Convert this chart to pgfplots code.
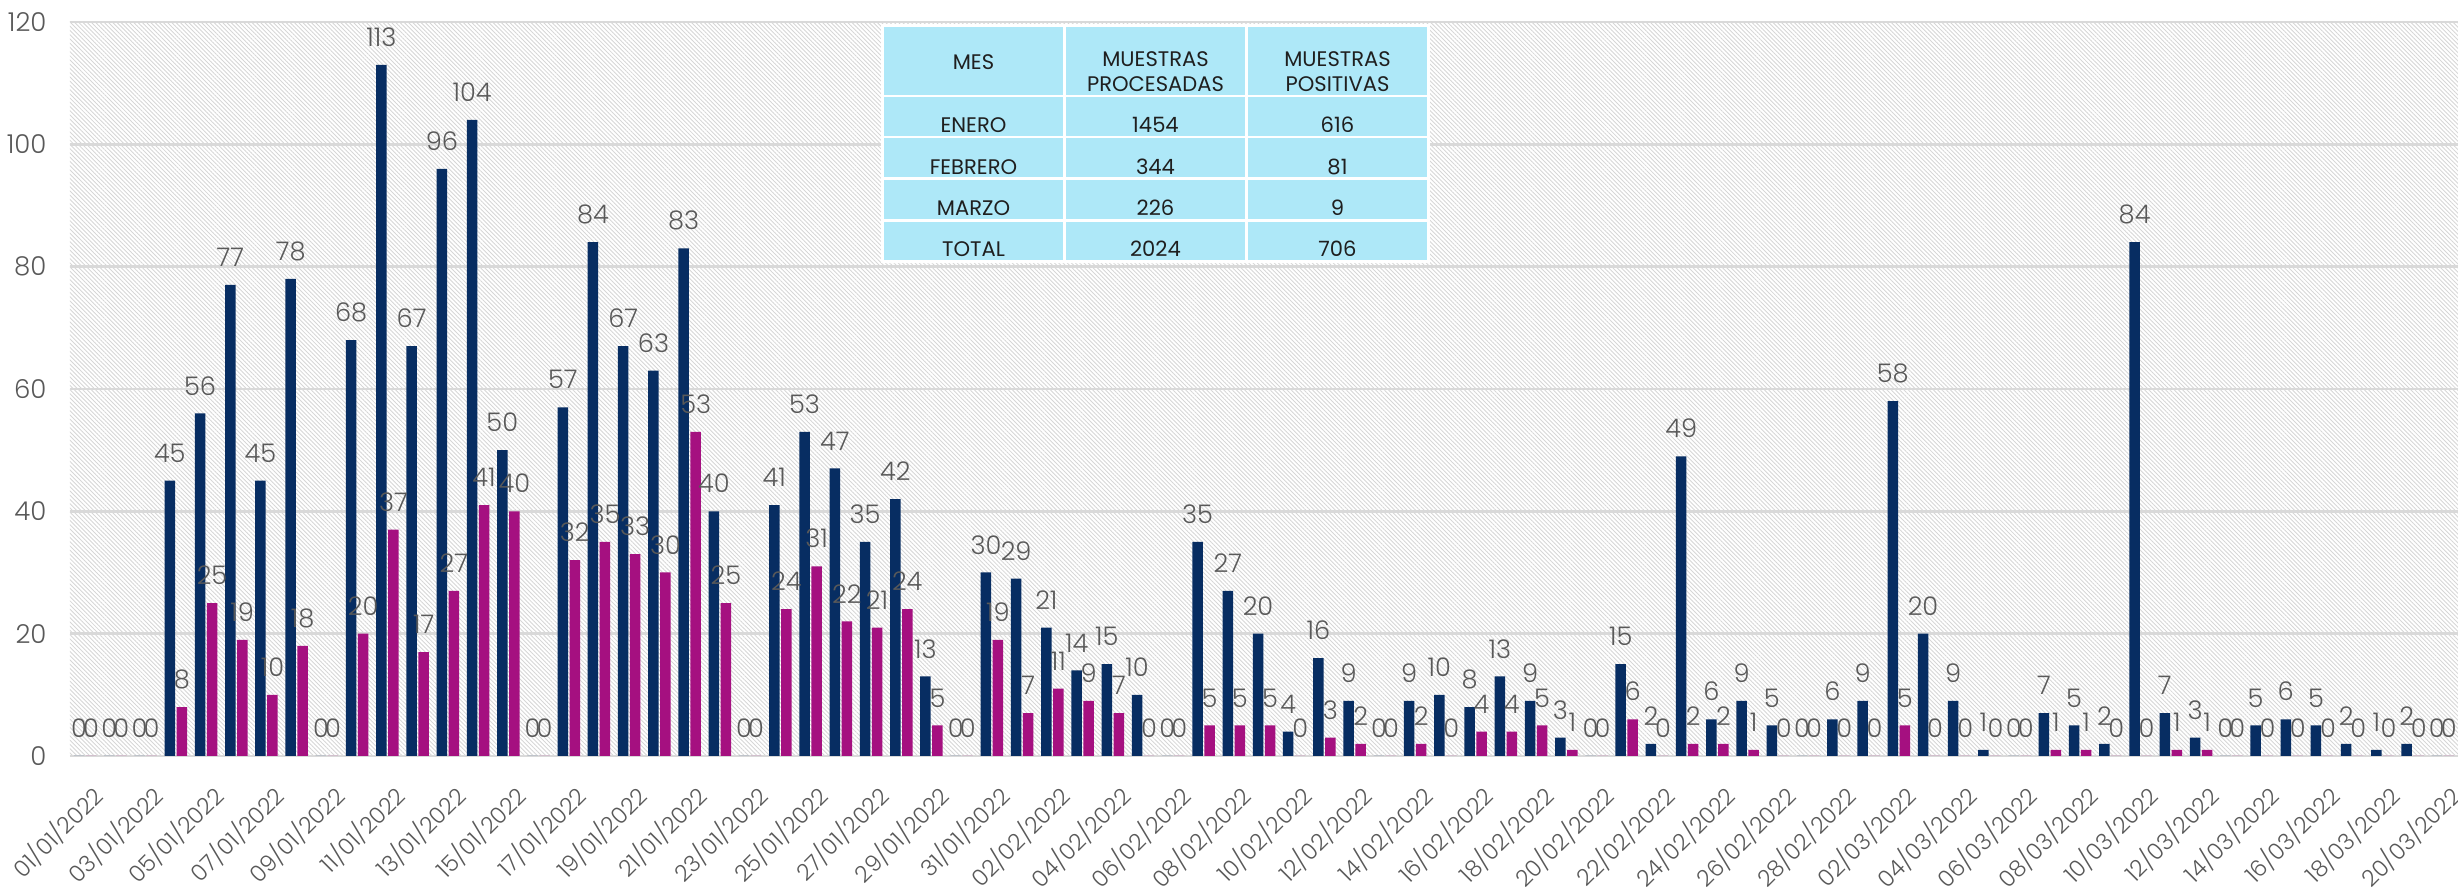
\documentclass[border=0pt]{standalone}
\usepackage{pgfplots}
\pgfplotsset{compat=1.18}
\usepackage{pgfplotstable}
\usepackage{fontspec}
\setmainfont{Poppins}[UprightFont={* Light}]
\newfontfamily\tabfont{Poppins}
\usetikzlibrary{patterns.meta}
\definecolor{navy}{RGB}{7,45,98}
\definecolor{mag}{RGB}{165,16,128}
\definecolor{cellc}{RGB}{174,232,248}
\definecolor{gridc}{RGB}{217,217,217}
\definecolor{hatchc}{RGB}{214,214,214}
\definecolor{lblgrey}{RGB}{89,89,89}

\pgfplotstableread{
d p q
1 0 0
2 0 0
3 0 0
4 45 8
5 56 25
6 77 19
7 45 10
8 78 18
9 0 0
10 68 20
11 113 37
12 67 17
13 96 27
14 104 41
15 50 40
16 0 0
17 57 32
18 84 35
19 67 33
20 63 30
21 83 53
22 40 25
23 0 0
24 41 24
25 53 31
26 47 22
27 35 21
28 42 24
29 13 5
30 0 0
31 30 19
32 29 7
33 21 11
34 14 9
35 15 7
36 10 0
37 0 0
38 35 5
39 27 5
40 20 5
41 4 0
42 16 3
43 9 2
44 0 0
45 9 2
46 10 0
47 8 4
48 13 4
49 9 5
50 3 1
51 0 0
52 15 6
53 2 0
54 49 2
55 6 2
56 9 1
57 5 0
58 0 0
59 6 0
60 9 0
61 58 5
62 20 0
63 9 0
64 1 0
65 0 0
66 7 1
67 5 1
68 2 0
69 84 0
70 7 1
71 3 1
72 0 0
73 5 0
74 6 0
75 5 0
76 2 0
77 1 0
78 2 0
79 0 0
}\data

\begin{document}
\begin{tikzpicture}
\begin{axis}[
  at={(0,0)}, anchor=south west,
  width=23.88cm, height=7.34cm, scale only axis,
  xmin=0.5, xmax=79.5, ymin=0, ymax=120,
  ytick={0,20,...,120},
  ymajorgrids, grid style={gridc, line width=0.7pt},
  axis line style={draw=none},
  major tick length=0pt,
  xtick={1,3,...,79},
  xticklabels={01/01/2022,03/01/2022,05/01/2022,07/01/2022,09/01/2022,11/01/2022,13/01/2022,15/01/2022,17/01/2022,19/01/2022,21/01/2022,23/01/2022,25/01/2022,27/01/2022,29/01/2022,31/01/2022,02/02/2022,04/02/2022,06/02/2022,08/02/2022,10/02/2022,12/02/2022,14/02/2022,16/02/2022,18/02/2022,20/02/2022,22/02/2022,24/02/2022,26/02/2022,28/02/2022,02/03/2022,04/03/2022,06/03/2022,08/03/2022,10/03/2022,12/03/2022,14/03/2022,16/03/2022,18/03/2022,20/03/2022},
  tick label style={text=lblgrey},
  xticklabel style={font=\fontsize{6.5}{8}\selectfont, inner sep=0pt, yshift=-7.4pt, xshift=1.2pt, rotate=45, anchor=north east},
  yticklabel style={font=\fontsize{7.4}{9}\selectfont, inner sep=0pt, xshift=-6.5pt, anchor=east},
  /pgf/number format/assume math mode=true,
  ybar=0.015cm, bar width=0.105cm,
  nodes near coords,
  every node near coord/.append style={font=\fontsize{7.3}{8}\selectfont, text=lblgrey, inner sep=0pt, anchor=south, yshift=5pt},
  axis background/.style={pattern={Lines[angle=-45,distance=0.85pt,line width=0.25pt]}, pattern color=hatchc},
]
\addplot[fill=navy, draw=none] table[x=d,y=p]{\data};
\addplot[fill=mag, draw=none] table[x=d,y=q]{\data};
\end{axis}
% summary table
\fill[white] (8.11,4.93) rectangle (13.60,7.32);
\foreach \xa/\xb in {8.14/9.93, 9.96/11.75, 11.78/13.57}{
  \foreach \ya/\yb in {6.61/7.29, 6.20/6.59, 5.79/6.18, 5.37/5.76, 4.96/5.34}{
    \fill[cellc] (\xa,\ya) rectangle (\xb,\yb);
  }
}
\begin{scope}[every node/.style={font=\tabfont\fontsize{6}{7}\selectfont, text=black!88, anchor=base, inner sep=0pt}]
\node at (9.035,6.86) {MES};
\node at (10.855,6.89) {MUESTRAS};
\node at (10.855,6.64) {PROCESADAS};
\node at (12.675,6.89) {MUESTRAS};
\node at (12.675,6.64) {POSITIVAS};
\node at (9.035,6.23) {ENERO};
\node at (10.855,6.23) {1454};
\node at (12.675,6.23) {616};
\node at (9.035,5.81) {FEBRERO};
\node at (10.855,5.81) {344};
\node at (12.675,5.81) {81};
\node at (9.035,5.40) {MARZO};
\node at (10.855,5.40) {226};
\node at (12.675,5.40) {9};
\node at (9.035,4.99) {TOTAL};
\node at (10.855,4.99) {2024};
\node at (12.675,4.99) {706};
\end{scope}
\pgfresetboundingbox
\path[use as bounding box] (-0.70,-1.34) rectangle (23.88,7.56);
\end{tikzpicture}
\end{document}
